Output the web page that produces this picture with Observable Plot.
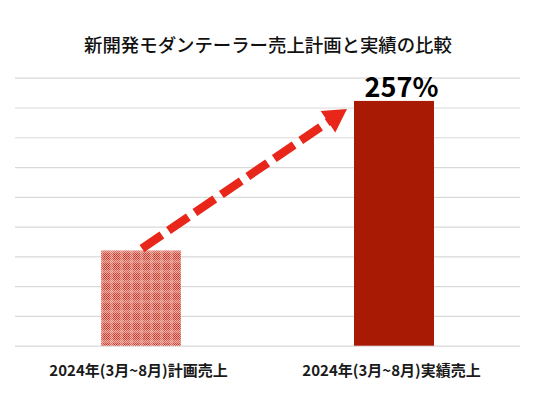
<!DOCTYPE html>
<html><head><meta charset="utf-8">
<script src="https://cdn.jsdelivr.net/npm/d3@7"></script>
<script src="https://cdn.jsdelivr.net/npm/@observablehq/plot@0.6"></script>
<style>
body{margin:0;background:#fff;width:536px;height:394px;overflow:hidden;font-family:"Noto Sans CJK JP",sans-serif;}
#title{height:60px;box-sizing:border-box;padding-top:32px;text-align:center;font-size:18.4px;line-height:25px;color:#111;font-weight:500;}
</style></head>
<body>
<svg width="0" height="0" style="position:absolute">
<defs>
<pattern id="micro" width="2" height="2" patternUnits="userSpaceOnUse">
<rect width="2" height="2" fill="#eaa79e"/>
<rect x="0" y="0" width="1" height="1" fill="#bf3528"/>
<rect x="1" y="1" width="1" height="1" fill="#c9463a"/>
</pattern>
<pattern id="checker" width="10" height="10" patternUnits="userSpaceOnUse">
<rect width="10" height="10" fill="url(#micro)"/>
<rect x="0" y="0" width="3" height="10" fill="rgba(245,190,180,0.35)"/>
<rect x="0" y="0" width="10" height="3" fill="rgba(245,190,180,0.35)"/>
</pattern>
</defs>
</svg>
<div id="title">新開発モダンテーラー売上計画と実績の比較</div>
<div id="chart"></div>
<script>
const categories = ["2024年(3月~8月)計画売上", "2024年(3月~8月)実績売上"];
const values = [3.2, 8.22];
const fills = ["url(#checker)", "#a91a05"];
const labels = ["", "257%"];
const yTicks = [0,1,2,3,4,5,6,7,8,9];

const data = categories.map((c, i) => ({cat: c, value: values[i], fill: fills[i], label: labels[i]}));

function arrowMark(index, scales) {
  const x = scales.x, y = scales.y;
  const bw = x.bandwidth ? x.bandwidth() : 0;
  const x1 = x(data[0].cat) + bw / 2 + 1;
  const y1 = y(data[0].value) - 2;
  const x2 = x(data[1].cat) - 7;
  const y2 = y(data[1].value) + 8;
  const dx = x2 - x1, dy = y2 - y1;
  const len = Math.hypot(dx, dy);
  const ux = dx / len, uy = dy / len;
  const headLen = 23, headHalf = 13;
  const bx = x2 - ux * headLen, by = y2 - uy * headLen;
  const g = d3.create("svg:g");
  g.append("line")
    .attr("x1", x1).attr("y1", y1).attr("x2", bx + ux * 2).attr("y2", by + uy * 2)
    .attr("stroke", "#e8261a").attr("stroke-width", 8.5)
    .attr("stroke-dasharray", "24 8");
  g.append("path")
    .attr("d", `M${x2},${y2}L${bx - uy * headHalf},${by + ux * headHalf}L${bx + uy * headHalf},${by - ux * headHalf}Z`)
    .attr("fill", "#e8261a");
  return g.node();
}

const plot = Plot.plot({
  width: 536,
  height: 334,
  marginLeft: 15,
  marginRight: 16,
  marginTop: 17.7,
  marginBottom: 48.3,
  style: {fontFamily: "'Noto Sans CJK JP', sans-serif", background: "#fff"},
  x: {domain: categories, paddingInner: 0.684, paddingOuter: 0.338, label: null},
  y: {domain: [0, 9], axis: null},
  marks: [
    Plot.ruleY(yTicks, {stroke: "#d9d9d9", strokeWidth: 1.2}),
    Plot.barY(data, {x: "cat", y: "value", fill: "fill"}),
    arrowMark,
    Plot.text(data.filter(d => d.label), {x: "cat", y: "value", text: "label", lineAnchor: "bottom", dy: -4, dx: 7, fontSize: 27, fontWeight: "bold", fill: "#000"}),
    Plot.axisX({tickSize: 0, tickPadding: 19, fontSize: 15, fontWeight: "bold", fill: "#1a1a1a", label: null, dx: -3})
  ]
});
document.getElementById("chart").appendChild(plot);
</script>
</body></html>
